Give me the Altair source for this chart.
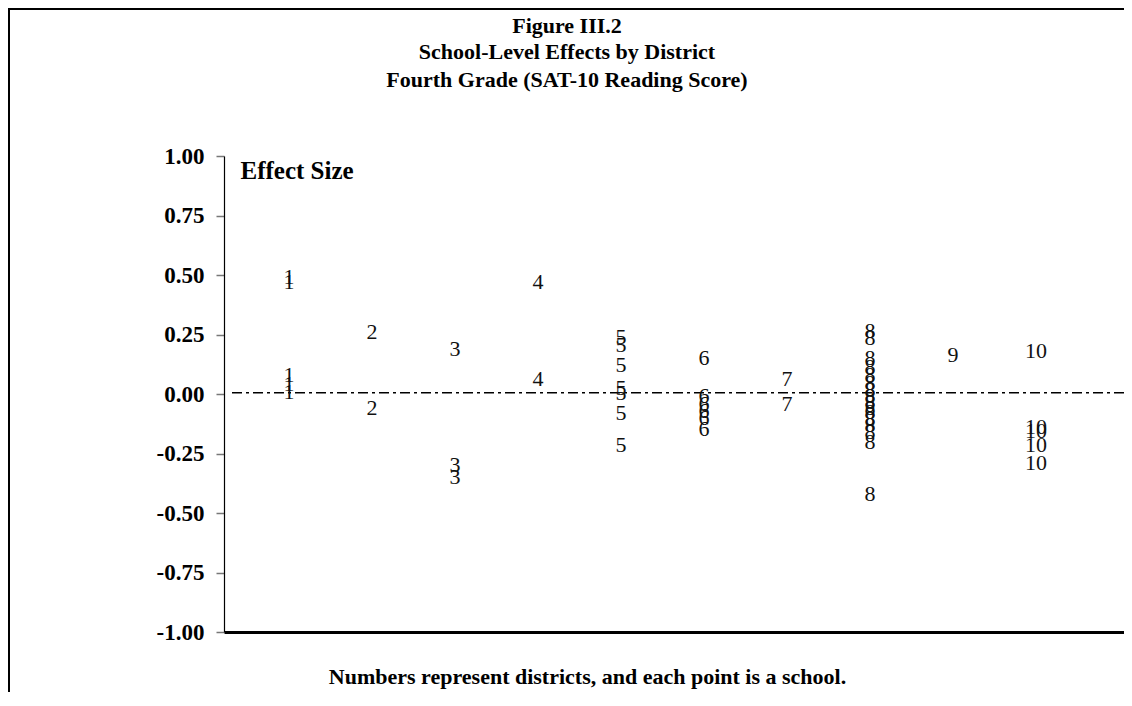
import altair as alt
import pandas as pd

# District effects (effect size), one list per district
d1 = [0.49, 0.47, 0.08, 0.04, 0.01]
d2 = [0.26, -0.06]
d3 = [0.19, -0.30, -0.35]
d4 = [0.47, 0.065]
d5 = [0.24, 0.205, 0.12, 0.025, 0.005, -0.08, -0.215]
d6 = [0.15, -0.01, -0.04, -0.07, -0.10, -0.145]
d7 = [0.065, -0.04]
d8 = [0.265, 0.235, 0.15, 0.115, 0.08, 0.045, 0.015, -0.01, -0.035, -0.06,
      -0.075, -0.105, -0.13, -0.16, -0.20, -0.42]
d9 = [0.165]
d10 = [0.18, -0.14, -0.155, -0.215, -0.29]

districts = [d1, d2, d3, d4, d5, d6, d7, d8, d9, d10]
ref_value = 0.005
y_ticks = [-1.0, -0.75, -0.5, -0.25, 0.0, 0.25, 0.5, 0.75, 1.0]

title_lines = ["Figure III.2", "School-Level Effects by District",
               "Fourth Grade (SAT-10 Reading Score)"]
note = "Numbers represent districts, and each point is a school."

rows = []
for i, vals in enumerate(districts, start=1):
    for v in vals:
        rows.append({"district": i, "label": str(i), "effect": v})
df = pd.DataFrame(rows)

FONT = "Liberation Serif"

xscale = alt.Scale(domain=[0.217, 11.06], nice=False, zero=False)
yscale = alt.Scale(domain=[-1, 1], nice=False)

points = alt.Chart(df).mark_text(
    font=FONT, fontSize=22, color="#111", baseline="middle", align="center"
).encode(
    x=alt.X("district:Q", scale=xscale,
            axis=alt.Axis(labels=False, ticks=False, grid=False,
                          domainColor="black", domainWidth=3,
                          title=note, titleX=363, titleY=44,
                          titleAlign="center", titleBaseline="middle",
                          titleFont=FONT, titleFontSize=22,
                          titleFontWeight="bold", titleColor="black")),
    y=alt.Y("effect:Q", scale=yscale,
            axis=alt.Axis(values=y_ticks, grid=False,
                          labelExpr="(datum.value < 0 ? '-' : '') + format(abs(datum.value), '.2f')",
                          labelFont=FONT, labelFontSize=23, labelFontWeight="bold",
                          labelColor="black", labelPadding=12,
                          tickSize=8, tickColor="#777", tickWidth=1.5,
                          domainColor="black", domainWidth=1.2,
                          title="Effect Size", titleAngle=0, titleX=16, titleY=14,
                          titleAlign="left", titleBaseline="middle",
                          titleFont=FONT, titleFontSize=25,
                          titleFontWeight="bold", titleColor="black")),
    text="label:N",
)

ref = alt.Chart(pd.DataFrame({"y": [ref_value]})).mark_rule(
    color="black", strokeWidth=1.5, strokeDash=[10, 4, 3, 4]
).encode(y=alt.Y("y:Q", scale=yscale), x=alt.value(8), x2=alt.value(900))

frame = alt.Chart(pd.DataFrame({"a": [0]})).mark_rect(
    filled=False, stroke="black", strokeWidth=2
).encode(x=alt.value(-215), x2=alt.value(1100), y=alt.value(-147), y2=alt.value(800))

title_layers = []
for k, line in enumerate(title_lines):
    title_layers.append(
        alt.Chart(pd.DataFrame({"t": [line]})).mark_text(
            font=FONT, fontSize=22, fontWeight="bold", color="black",
            align="center", baseline="middle"
        ).encode(text="t:N", x=alt.value(343), y=alt.value([-130, -104, -76][k]))
    )

chart = alt.layer(frame, ref, points, *title_layers).properties(
    width=900, height=476,
    background="white",
    autosize=alt.AutoSizeParams(type="none"),
    padding={"left": 216, "top": 148, "right": 0, "bottom": 60},
).configure_view(stroke="transparent", strokeWidth=0)

chart.save("out.html", embed_options={"renderer": "svg", "actions": False})
